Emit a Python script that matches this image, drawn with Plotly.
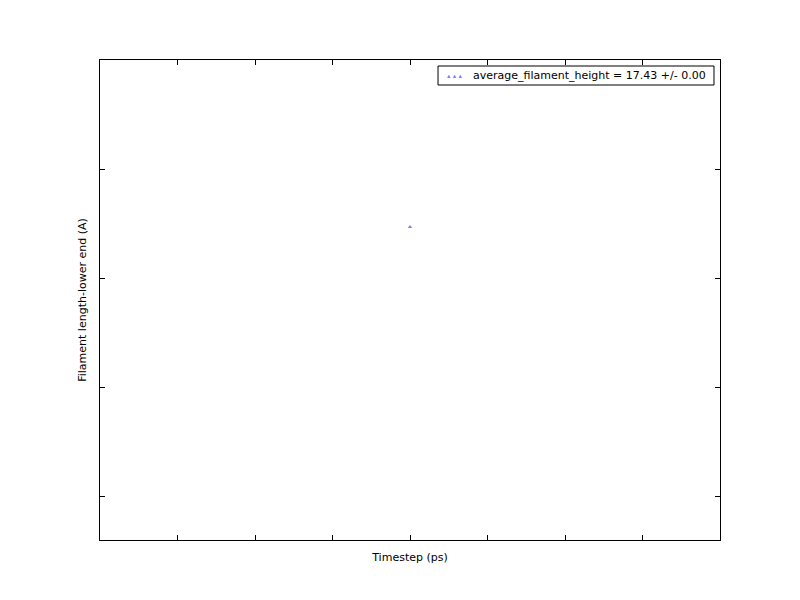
import plotly.graph_objects as go

timestep = [0.0]
filament_height = [17.4347]
series_name = "average_filament_height = 17.43 +/- 0.00"
x_title = "Timestep (ps)"
y_title = "Filament length-lower end (A)"
marker_color = "rgba(0,0,255,0.5)"

fig = go.Figure()
fig.add_trace(go.Scatter(
    x=timestep, y=filament_height, mode="markers", name=series_name,
    marker=dict(symbol="triangle-up", size=4, color=marker_color, line=dict(width=0)),
    showlegend=False,
))

axis_common = dict(
    showgrid=False, zeroline=False, showticklabels=False,
    ticks="inside", ticklen=5, tickcolor="black", tickwidth=1,
    showline=True, linecolor="black", linewidth=1, mirror="ticks",
)

# matplotlib-style legend box (drawn in paper coordinates)
fig.add_shape(type="rect", xref="paper", yref="paper",
              x0=0.5452, x1=0.9903, y0=0.9479, y1=0.9875,
              line=dict(color="black", width=1), fillcolor="white", layer="above")
fig.add_annotation(xref="paper", yref="paper", x=0.5565, y=0.9677,
                   xanchor="left", yanchor="middle", showarrow=False,
                   text="▴ ▴ ▴", font=dict(size=7, color=marker_color))
fig.add_annotation(xref="paper", yref="paper", x=(471 - 100) / 620, y=0.9677,
                   xanchor="left", yanchor="middle", showarrow=False,
                   text=series_name, font=dict(size=11, color="black"))

fig.update_layout(
    width=800, height=600,
    margin=dict(l=100, r=80, t=60, b=60),
    paper_bgcolor="white", plot_bgcolor="white",
    font=dict(family="DejaVu Sans", size=11, color="black"),
    xaxis=dict(range=[-0.04, 0.04], dtick=0.01, tick0=0,
               title=dict(text=x_title, standoff=13, font=dict(size=11)), **axis_common),
    yaxis=dict(range=[17.406, 17.45], dtick=0.01, tick0=17.4,
               title=dict(text=y_title, standoff=10, font=dict(size=11)), **axis_common),
    showlegend=False,
)
fig.write_html("out.html")
